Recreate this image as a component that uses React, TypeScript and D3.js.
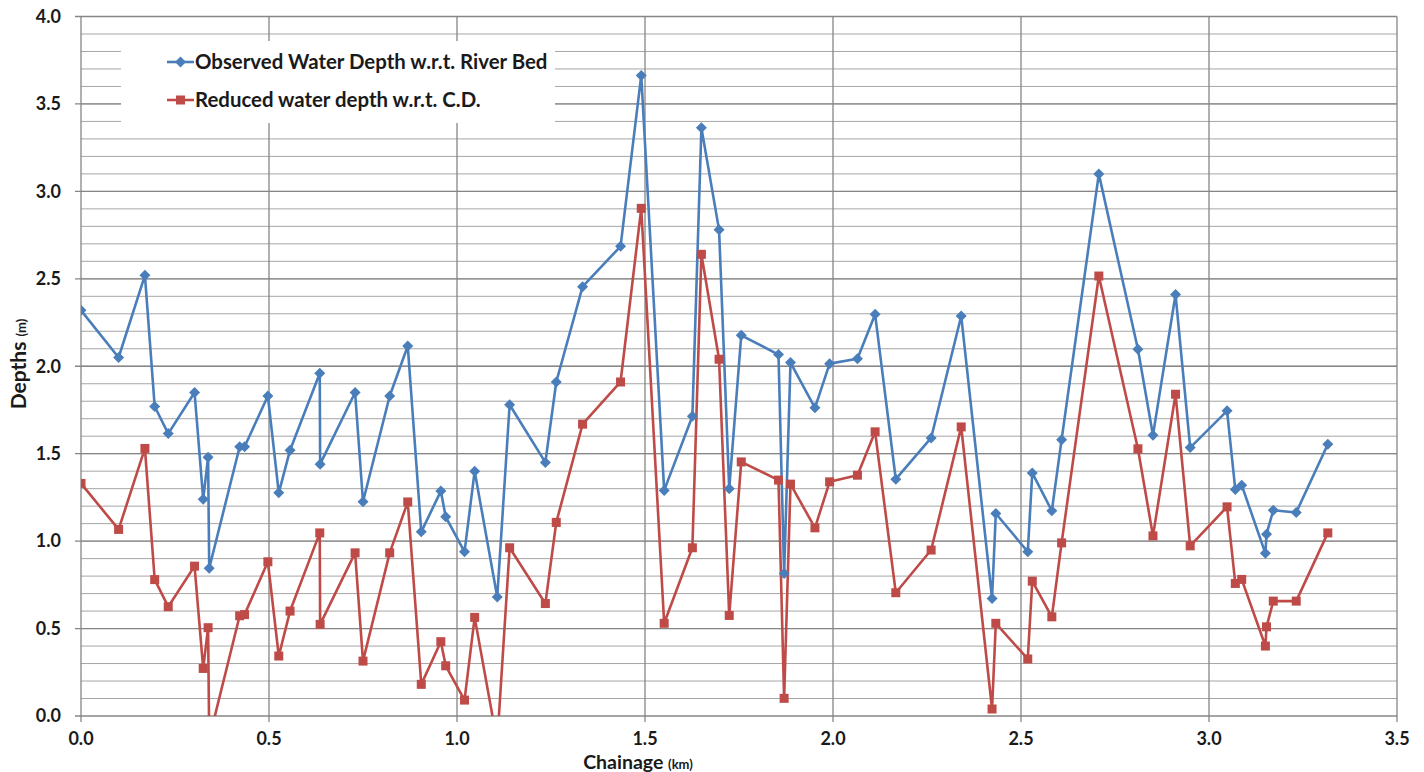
import React from "react";
import * as d3 from "d3";

// chainage in km, depths in m
const chainage = [
  0.0, 0.1, 0.17, 0.196, 0.232, 0.302, 0.325, 0.338, 0.341, 0.422, 0.435, 0.497,
  0.526, 0.556, 0.635, 0.636, 0.729, 0.75, 0.821, 0.869, 0.905, 0.957, 0.97, 1.02,
  1.047, 1.107, 1.14, 1.235, 1.264, 1.334, 1.435, 1.49, 1.551, 1.626, 1.65, 1.697,
  1.724, 1.756, 1.855, 1.87, 1.887, 1.952, 1.991, 2.065, 2.112, 2.167, 2.261, 2.341,
  2.423, 2.433, 2.518, 2.53, 2.582, 2.608, 2.707, 2.811, 2.851, 2.911, 2.95, 3.048,
  3.07, 3.087, 3.15, 3.153, 3.171, 3.232, 3.316,
];

const observed = [
  2.32, 2.05, 2.52, 1.77, 1.615, 1.85, 1.24, 1.48, 0.845, 1.54, 1.54, 1.83,
  1.276, 1.52, 1.96, 1.44, 1.85, 1.225, 1.83, 2.116, 1.053, 1.286, 1.139, 0.939,
  1.4, 0.68, 1.78, 1.45, 1.91, 2.455, 2.686, 3.663, 1.29, 1.714, 3.364, 2.78,
  1.3, 2.177, 2.067, 0.815, 2.021, 1.762, 2.015, 2.043, 2.297, 1.354, 1.59, 2.287,
  0.672, 1.158, 0.939, 1.39, 1.173, 1.58, 3.1, 2.097, 1.606, 2.41, 1.535, 1.745,
  1.295, 1.32, 0.93, 1.04, 1.177, 1.164, 1.554,
];

const reduced = [
  1.33, 1.067, 1.53, 0.78, 0.625, 0.857, 0.272, 0.505, -0.13, 0.573, 0.58, 0.882,
  0.343, 0.6, 1.047, 0.524, 0.933, 0.314, 0.933, 1.224, 0.181, 0.425, 0.287, 0.091,
  0.564, -0.15, 0.962, 0.643, 1.107, 1.669, 1.91, 2.903, 0.53, 0.962, 2.64, 2.04,
  0.575, 1.453, 1.349, 0.101, 1.326, 1.076, 1.339, 1.377, 1.625, 0.705, 0.949, 1.653,
  0.04, 0.53, 0.326, 0.771, 0.567, 0.99, 2.516, 1.528, 1.03, 1.84, 0.973, 1.196,
  0.758, 0.781, 0.4, 0.51, 0.657, 0.657, 1.047,
];

const xTicks = [0, 0.5, 1.0, 1.5, 2.0, 2.5, 3.0, 3.5];
const yTicks = [0, 0.5, 1.0, 1.5, 2.0, 2.5, 3.0, 3.5, 4.0];
const yMinor = d3.range(1, 40).map((i) => i / 10);

const seriesNames = [
  "Observed Water Depth w.r.t. River Bed",
  "Reduced water depth w.r.t. C.D.",
];
const blue = "#4A7EBB";
const red = "#BE4B48";

const width = 1424;
const height = 772;
const left = 81;
const right = 1397;
const top = 16.5;
const bottom = 716;

const font = "Lato, 'Liberation Sans', sans-serif";
const ink = "#1a1a1a";

export default function App() {
  const x = d3.scaleLinear().domain([0, 3.5]).range([left, right]);
  const y = d3.scaleLinear().domain([0, 4]).range([bottom, top]);

  const obsPts = chainage.map((c, i) => [c, observed[i]] as [number, number]);
  const redPts = chainage.map((c, i) => [c, reduced[i]] as [number, number]);
  const line = d3
    .line<[number, number]>()
    .x((d) => x(d[0]))
    .y((d) => y(d[1]));

  const diamond = (cx: number, cy: number, r = 5.5) =>
    `M${cx},${cy - r}L${cx + r},${cy}L${cx},${cy + r}L${cx - r},${cy}Z`;

  return (
    <div style={{ position: "absolute", left: 0, top: 0 }}>
      <svg width={width} height={height} style={{ display: "block", background: "#fff" }}>
        <defs>
          <clipPath id="plot">
            <rect x={left} y={top} width={right - left} height={bottom - top} />
          </clipPath>
        </defs>

        {/* minor horizontal grid */}
        {yMinor.map((v) => (
          <line key={"m" + v} x1={left} x2={right} y1={y(v)} y2={y(v)} stroke="#a6a6a6" strokeWidth={1} />
        ))}
        {/* major horizontal grid */}
        {yTicks.map((v) => (
          <line key={"h" + v} x1={left - 6} x2={right} y1={y(v)} y2={y(v)} stroke="#868686" strokeWidth={1.3} />
        ))}
        {/* vertical grid */}
        {xTicks.map((v) => (
          <line key={"v" + v} x1={x(v)} x2={x(v)} y1={top} y2={bottom + 6} stroke="#868686" strokeWidth={1.3} />
        ))}

        {/* legend box */}
        <rect x={121} y={41} width={434} height={82} fill="#fff" />

        <g clipPath="url(#plot)">
          <path d={line(obsPts) || ""} fill="none" stroke={blue} strokeWidth={2.6} strokeLinejoin="round" />
          <path d={line(redPts) || ""} fill="none" stroke={red} strokeWidth={2.6} strokeLinejoin="round" />
          {obsPts.map((d, i) => (
            <path key={"o" + i} d={diamond(x(d[0]), y(d[1]))} fill={blue} />
          ))}
          {redPts.map((d, i) => (
            <rect key={"r" + i} x={x(d[0]) - 4.5} y={y(d[1]) - 4.5} width={9} height={9} fill={red} />
          ))}
        </g>

        {/* y tick labels */}
        {yTicks.map((v) => (
          <text key={"yl" + v} x={61} y={y(v)} dy="0.35em" textAnchor="end" fontFamily={font} fontWeight="bold" fontSize={18} fill={ink}>
            {v.toFixed(1)}
          </text>
        ))}
        {/* x tick labels */}
        {xTicks.map((v) => (
          <text key={"xl" + v} x={x(v)} y={745} textAnchor="middle" fontFamily={font} fontWeight="bold" fontSize={18} fill={ink}>
            {v.toFixed(1)}
          </text>
        ))}

        {/* axis titles */}
        <text x={638} y={769} textAnchor="middle" fontFamily={font} fontWeight="bold" fill={ink}>
          <tspan fontSize={19.5}>Chainage </tspan>
          <tspan fontSize={13}>(km)</tspan>
        </text>
        <text transform="translate(26,364) rotate(-90)" textAnchor="middle" fontFamily={font} fontWeight="bold" fill={ink}>
          <tspan fontSize={21}>Depths </tspan>
          <tspan fontSize={13}>(m)</tspan>
        </text>

        {/* legend */}
        <g fontFamily={font} fontWeight="bold" fontSize={20.4} fill={ink}>
          <line x1={167} x2={194} y1={62} y2={62} stroke={blue} strokeWidth={2.6} />
          <path d={diamond(180.5, 62)} fill={blue} />
          <text x={195} y={62} dy="0.35em">{seriesNames[0]}</text>
          <line x1={167} x2={194} y1={100} y2={100} stroke={red} strokeWidth={2.6} />
          <rect x={176} y={95.5} width={9} height={9} fill={red} />
          <text x={195} y={100} dy="0.35em">{seriesNames[1]}</text>
        </g>
      </svg>
    </div>
  );
}
